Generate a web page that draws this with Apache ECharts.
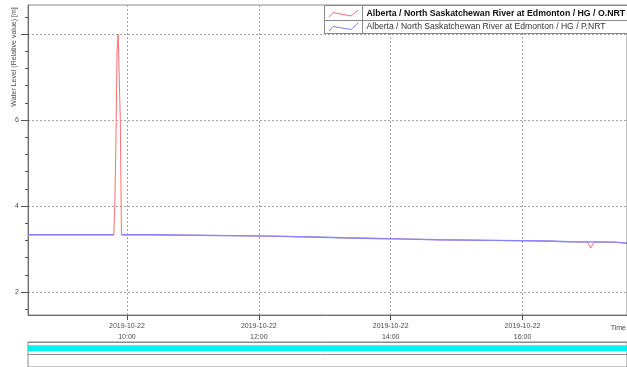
<!DOCTYPE html>
<html>
<head>
<meta charset="utf-8">
<script src="https://cdn.jsdelivr.net/npm/echarts@6/dist/echarts.min.js"></script>
<style>
  html, body { margin: 0; padding: 0; background: #ffffff; }
  #chart { width: 627px; height: 367px; }
</style>
</head>
<body>
<div id="chart"></div>
<script>
// Water level, North Saskatchewan River at Edmonton, 2019-10-22
const DAY = '2019-10-22';
const axisStart = '08:30';
const axisEnd = '17:35';
const timeTicks = ['10:00', '12:00', '14:00', '16:00'];
const levelTicks = [2, 4, 6, 8];
const levelLabels = [2, 4, 6];   // the top value sits under the axis title
const levelMinorTicks = [1.6, 2.0, 2.4, 2.8, 3.2, 3.6, 4.0, 4.4, 4.8, 5.2, 5.6, 6.0, 6.4, 6.8, 7.2, 7.6, 8.0, 8.4];
const levelMin = 1.465;
const levelMax = 8.675;

const seriesNames = [
  'Alberta / North Saskatchewan River at Edmonton / HG / O.NRT',
  'Alberta / North Saskatchewan River at Edmonton / HG / P.NRT'
];

// O.NRT (raw observations)
const obsTimes = ['08:30', '09:48', '09:49', '09:50', '09:51', '09:52', '09:53', '09:54', '09:55',
  '10:22', '10:23', '12:12', '12:13', '12:47', '12:48', '13:17', '13:18', '13:47', '13:48',
  '14:17', '14:18', '14:42', '14:43', '15:32', '15:33', '16:22', '16:23', '16:42', '16:43',
  '16:59', '17:02', '17:05', '17:24', '17:25', '17:35'];
const obsLevels = [3.33, 3.33, 4.0, 5.5, 7.6, 8.0, 8.0, 6.0, 3.33,
  3.33, 3.30, 3.30, 3.28, 3.28, 3.26, 3.26, 3.245, 3.245, 3.23,
  3.23, 3.215, 3.215, 3.20, 3.20, 3.185, 3.185, 3.17, 3.17, 3.16,
  3.16, 3.02, 3.16, 3.16, 3.135, 3.135];

// P.NRT (checked values, spike removed)
const prodTimes = ['08:30', '09:48', '09:49', '09:55', '10:22', '10:23', '12:12', '12:13',
  '12:47', '12:48', '13:17', '13:18', '13:47', '13:48', '14:17', '14:18', '14:42', '14:43',
  '15:32', '15:33', '16:22', '16:23', '16:42', '16:43', '17:24', '17:25', '17:35'];
const prodLevels = [3.33, 3.33, null, 3.33, 3.33, 3.30, 3.30, 3.28,
  3.28, 3.26, 3.26, 3.245, 3.245, 3.23, 3.23, 3.215, 3.215, 3.20,
  3.20, 3.185, 3.185, 3.17, 3.17, 3.16, 3.16, 3.135, 3.135];

// Data availability strip
const availabilityTimes = ['08:30', '17:35'];
const availabilityRow = 1.5;

const FONT = '"Liberation Sans", Arial, sans-serif';
const toTs = hhmm => new Date(DAY + 'T' + hhmm + ':00').getTime();
const pad = n => (n < 10 ? '0' : '') + n;
const fmtTime = v => {
  const d = new Date(v);
  return d.getFullYear() + '-' + pad(d.getMonth() + 1) + '-' + pad(d.getDate()) +
    '\n' + pad(d.getHours()) + ':' + pad(d.getMinutes());
};

const chart = echarts.init(document.getElementById('chart'), null, { renderer: 'canvas' });

const gridLine = { color: '#a3a3a3', width: 1, type: [2, 2] };
const frame = '#8a8a8a';

const option = {
  animation: false,
  backgroundColor: '#ffffff',
  grid: [
    { left: 28, right: -2, top: 5, height: 310, show: true, borderColor: frame, borderWidth: 1, backgroundColor: 'transparent' },
    { left: 28, right: -2, top: 342, height: 36, show: true, borderColor: frame, borderWidth: 1, backgroundColor: 'transparent' }
  ],
  xAxis: [
    {
      type: 'value', gridIndex: 0, scale: true,
      min: toTs(axisStart), max: toTs(axisEnd),
      axisLine: { show: true, onZero: false, lineStyle: { color: '#707070', width: 1 } },
      axisTick: { show: true, customValues: timeTicks.map(toTs), length: 5, lineStyle: { color: '#505050' } },
      axisLabel: {
        customValues: timeTicks.map(toTs), formatter: fmtTime,
        fontSize: 7, lineHeight: 11, color: '#4a4a4a', fontFamily: FONT, margin: 6
      },
      splitLine: { show: true, lineStyle: gridLine }
    },
    {
      type: 'value', gridIndex: 1, scale: true,
      min: toTs(axisStart), max: toTs(axisEnd),
      show: false
    }
  ],
  yAxis: [
    {
      type: 'value', gridIndex: 0, min: levelMin, max: levelMax, position: 'left',
      axisLine: { show: true, onZero: false, lineStyle: { color: '#707070', width: 1 } },
      axisTick: { show: true, customValues: levelTicks, length: 7, lineStyle: { color: '#505050' } },
      axisLabel: { customValues: levelLabels, fontSize: 7, color: '#4a4a4a', fontFamily: FONT, margin: 9 },
      splitLine: { show: true, lineStyle: gridLine }
    },
    {
      type: 'value', gridIndex: 0, min: levelMin, max: levelMax, position: 'left', offset: 0,
      axisLine: { show: false },
      axisTick: { show: true, customValues: levelMinorTicks, length: 3, lineStyle: { color: '#505050' } },
      axisLabel: { show: false },
      splitLine: { show: false }
    },
    {
      type: 'value', gridIndex: 1, min: 0, max: 2, interval: 1,
      axisLine: { show: false }, axisTick: { show: false }, axisLabel: { show: false },
      splitLine: { show: true, lineStyle: { color: frame, width: 1 } }
    }
  ],
  series: [
    {
      name: seriesNames[0], type: 'line', xAxisIndex: 0, yAxisIndex: 0,
      data: obsTimes.map((t, i) => [toTs(t), obsLevels[i]]),
      showSymbol: false, color: '#ff6f6f',
      lineStyle: { color: '#ff6f6f', width: 1 }
    },
    {
      name: seriesNames[1], type: 'line', xAxisIndex: 0, yAxisIndex: 0,
      data: prodTimes.map((t, i) => [toTs(t), prodLevels[i]]),
      showSymbol: false, connectNulls: false, color: '#8484ff',
      lineStyle: { color: '#8484ff', width: 1.4 }
    },
    {
      name: 'availability', type: 'line', xAxisIndex: 1, yAxisIndex: 2,
      data: availabilityTimes.map(t => [toTs(t), availabilityRow]),
      showSymbol: false, silent: true, color: '#00f2f2',
      lineStyle: { color: '#00f2f2', width: 6, cap: 'butt' }
    }
  ],
  graphic: [
    {
      type: 'text', x: 14.5, y: 57, rotation: Math.PI / 2, z: 100,
      style: { text: 'Water Level (Relative value) [m]', font: '7px ' + FONT, fill: '#4a4a4a', align: 'center', verticalAlign: 'middle' }
    },
    {
      type: 'text', x: 626, y: 328, z: 100,
      style: { text: 'Time', font: '7px ' + FONT, fill: '#4a4a4a', align: 'right', verticalAlign: 'middle' }
    },
    // legend table
    {
      type: 'rect', z: 100,
      shape: { x: 324.5, y: 5.5, width: 310, height: 28 },
      style: { fill: '#ffffff', stroke: frame, lineWidth: 1 }
    },
    {
      type: 'line', z: 101,
      shape: { x1: 324.5, y1: 20.5, x2: 634, y2: 20.5 },
      style: { stroke: frame, lineWidth: 1 }
    },
    {
      type: 'line', z: 101,
      shape: { x1: 362.5, y1: 5.5, x2: 362.5, y2: 33.5 },
      style: { stroke: frame, lineWidth: 1 }
    },
    {
      type: 'polyline', z: 101,
      shape: { points: [[329, 17], [333, 12.5], [351, 16], [358, 10]] },
      style: { stroke: '#ff6f6f', lineWidth: 1, fill: null }
    },
    {
      type: 'polyline', z: 101,
      shape: { points: [[329, 31], [333, 26.5], [351, 29.5], [358, 23]] },
      style: { stroke: '#8080ff', lineWidth: 1, fill: null }
    },
    {
      type: 'text', x: 366.5, y: 13.3, z: 101,
      style: { text: seriesNames[0], font: 'bold 8.75px ' + FONT, fill: '#111111', align: 'left', verticalAlign: 'middle' }
    },
    {
      type: 'text', x: 366.5, y: 27, z: 101,
      style: { text: seriesNames[1], font: '8.6px ' + FONT, fill: '#333333', align: 'left', verticalAlign: 'middle' }
    }
  ]
};

chart.setOption(option);
</script>
</body>
</html>
